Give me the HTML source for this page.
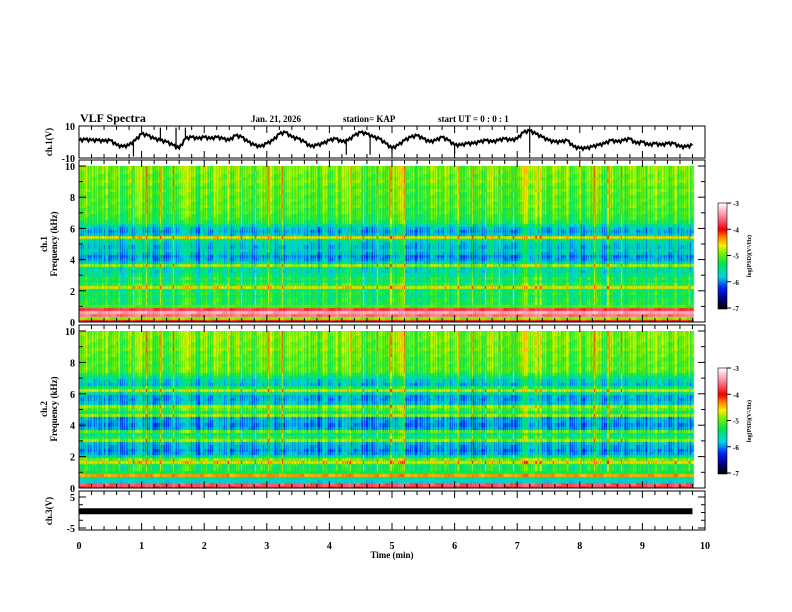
<!DOCTYPE html>
<html><head><meta charset="utf-8"><style>
body{margin:0;background:#fff;width:792px;height:612px;overflow:hidden}
#root{position:relative;width:792px;height:612px}
svg text{font-family:"Liberation Serif",serif;font-weight:bold;fill:#000}
canvas{position:absolute}
</style></head><body>
<div id="root">
<canvas id="spec1" width="626" height="156" style="left:79px;top:166px"></canvas>
<canvas id="spec2" width="626" height="157" style="left:79px;top:331px"></canvas>
<canvas id="cb1" width="9" height="106" style="left:718px;top:203px"></canvas>
<canvas id="cb2" width="9" height="106" style="left:718px;top:368px"></canvas>
<svg id="ov" width="792" height="612" style="position:absolute;left:0;top:0"></svg>
</div>
<script>
// ---- data ----
const timeTicks=[0,1,2,3,4,5,6,7,8,9,10];
const freqTicks=[0,2,4,6,8,10];
const cbTicks=[-3,-4,-5,-6,-7];
const wave1=[1,1.5,1,1,0.5,1,-2,-3,-2,1,5,4,2,1,0,-2,-4,2,3,2,3,2,3,2,1,4,3,0,-2,-3,-1,1,5,6,3,2,0,-3,-2,-1,1,2,0,1,4,6,5,3,2,-1,-4,-2,1,3,4,2,0,1,3,1,-2,-2,-1,-1,0,1,0,1,2,1,2,6,7,5,3,1,0,0,1,-3,-4,-4,-3,-2,-1,1,0,1,2,-1,0,-2,-1,-2,-1,-1,-3,-3,-2];
const waveSpikeTimes=[0.87,1.3,1.55,1.7,4.27,4.65,5.0,6.0,7.2];
const waveSpikeVals=[-9,9,9,9,-8,-8,-7,-7,-7];
const ch1Rows=[-3.9,-4.7,-3.4,-3.2,-3.6,-4.9,-5.3,-5.3,-5.4,-5.3,-5.4,-4.7,-5.2,-5.4,-5.3,-5.5,-5.6,-5.6,-4.9,-5.7,-5.9,-6.0,-5.8,-5.7,-5.8,-5.7,-5.6,-4.7,-5.8,-5.9,-5.8,-5.6,-5.3,-5.2,-5.2,-5.1,-5.15,-5.05,-5.1,-5.05,-5.1,-5.05,-5.0,-5.1,-5.0,-4.95,-5.0,-5.0,-4.95,-4.95];
const ch2Rows=[-3.6,-3.5,-5.6,-5.4,-4.2,-5.1,-5.3,-5.3,-4.6,-5.0,-5.6,-5.9,-6.0,-5.9,-5.8,-4.9,-5.3,-5.5,-5.1,-5.9,-6.0,-5.9,-5.9,-4.9,-5.4,-5.1,-4.9,-5.8,-5.9,-5.9,-5.6,-4.8,-5.4,-5.8,-5.7,-5.5,-5.3,-5.1,-5.05,-5.1,-5.05,-5.1,-5.0,-5.05,-4.95,-5.0,-5.0,-4.95,-4.95,-4.95];
const colActivity=[0.3,0.6,0.2,0.4,0.3,0.5,0.2,0.3,0.4,0.9,0.6,0.3,0.2,0.4,0.3,0.5,0.7,0.8,0.4,0.3,0.5,0.4,0.8,0.4,0.3,0.6,0.5,0.3,0.4,0.7,0.5,0.3,0.4,0.8,0.4,0.6,0.3,0.2,0.3,0.5,0.4,0.3,0.8,0.5,0.4,0.3,0.2,0.5,0.4,0.3,0.7,0.9,0.4,0.3,0.2,0.3,0.4,0.5,0.3,0.4,0.6,0.3,0.4,0.2,0.3,0.5,0.7,0.4,0.3,0.2,0.5,1.0,0.6,0.9,0.4,0.3,0.5,0.4,0.3,0.3,0.2,0.6,0.8,0.4,0.3,0.5,0.4,0.3,0.6,0.4,0.3,0.5,0.6,0.4,0.3,0.4,0.5,0.3];
const ch3Times=[0,9.8];
const ch3Vals=[0.4,0.4];
// ---- scales ----
const X0=79,X1=705;
const xs=t=>X0+t*(X1-X0)/10;
const P={w:[126,158,-10,10],s1:[166,322,0,10],s2:[331,488,0,10],c3:[497,528,-5,5]};
const ys=(p,v)=>{const [a,b,lo,hi]=P[p];return b-(v-lo)/(hi-lo)*(b-a);};
function cmap(v){
 const st=[[-7,[0,0,0]],[-6.6,[0,0,140]],[-6.2,[0,40,255]],[-5.8,[0,210,230]],[-5.3,[0,230,80]],[-4.9,[120,240,0]],[-4.6,[250,240,0]],[-4.3,[255,140,0]],[-4.0,[240,0,0]],[-3.5,[250,130,150]],[-3.0,[255,255,255]]];
 if(v<=-7)return st[0][1]; if(v>=-3)return st[st.length-1][1];
 for(let i=1;i<st.length;i++){if(v<=st[i][0]){const f=(v-st[i-1][0])/(st[i][0]-st[i-1][0]);return st[i-1][1].map((c,k)=>Math.round(c+(st[i][1][k]-c)*f));}}
}
function drawSpec(id,rows,p){
 const c=document.getElementById(id),g=c.getContext('2d');
 const top=P[p][0];
 const nc=colActivity.length, dt=0.1, NS_=6;
 for(let i=0;i<nc;i++){
  for(let sub=0;sub<NS_;sub++){
   const t0=i*dt+sub*dt/NS_,xa=xs(t0)-X0,xb=xs(t0+dt/NS_)-X0;
   const ct=((i*37+sub*11)%7-3)*0.09;
   const spike=((i*5+sub*3)%13==0)?0.5:0;
   for(let j=0;j<rows.length;j++){
    const f0=j*0.2,ya=ys(p,f0+0.2)-top,yb=ys(p,f0)-top;
    const tex=(((j*3+i)%4)-1.5)*0.05;
    const hf=f0>1?1:0.2;
    const act=(colActivity[i]*0.5+ct+spike)*hf;
    const v=rows[j]+act-0.2+tex;
    const col=cmap(v);g.fillStyle=`rgb(${col})`;
    g.fillRect(Math.floor(xa),Math.floor(ya),Math.ceil(xb-xa)+1,Math.ceil(yb-ya)+1);
   }
  }
 }
}
drawSpec('spec1',ch1Rows,'s1');drawSpec('spec2',ch2Rows,'s2');
['cb1','cb2'].forEach(id=>{const c=document.getElementById(id),g=c.getContext('2d');for(let y=0;y<c.height;y++){const v=-3-4*y/(c.height-1);const col=cmap(v);g.fillStyle=`rgb(${col})`;g.fillRect(0,y,c.width,1);}});
// ---- svg ----
const NS='http://www.w3.org/2000/svg',ov=document.getElementById('ov');
function el(tag,at,txt){const e=document.createElementNS(NS,tag);for(const k in at)e.setAttribute(k,at[k]);if(txt!=null)e.textContent=txt;ov.appendChild(e);return e;}
function line(x1,y1,x2,y2,w){return el('line',{x1,y1,x2,y2,stroke:'#000','stroke-width':w||1});}
function text(x,y,s,size,anchor,name,rot){const at={x,y,'font-size':size,'text-anchor':anchor||'start'};if(rot)at.transform=`rotate(-90 ${x} ${y})`;const e=el('text',at,s);return e;}
[['w',126,158],['s1',160,322],['s2',325,488],['c3',491,530]].forEach(([p,a,b])=>{
 const r=el('rect',{x:X0,y:a,width:X1-X0,height:b-a,fill:'none',stroke:'#000','stroke-width':1});
 
 for(let t=0;t<=10.001;t+=0.2){const maj=Math.abs(t-Math.round(t))<0.01;const L=maj?7:4;line(xs(t),a,xs(t),a+L);line(xs(t),b,xs(t),b-L);}
});
let d='';wave1.forEach((v,i)=>{
 d+=(i?'L':'M')+xs(i*0.1).toFixed(1)+','+ys('w',v).toFixed(1);
 if(i<wave1.length-1){for(let k=1;k<4;k++){const t=i*0.1+k*0.025;const vv=v+(wave1[i+1]-v)*k/4+((k%2)?0.9:-0.9);d+='L'+xs(t).toFixed(1)+','+ys('w',vv).toFixed(1);}}
});
const wl=el('path',{d,fill:'none',stroke:'#000','stroke-width':2});
waveSpikeTimes.forEach((t,i)=>{const k=Math.round(t*10);const s=line(xs(t),ys('w',wave1[Math.min(k,wave1.length-1)]),xs(t),ys('w',waveSpikeVals[i]),1.2);});
const c3=line(xs(ch3Times[0]),ys('c3',ch3Vals[0]),xs(ch3Times[1]),ys('c3',ch3Vals[1]),6);
function yAxis(p,ticks,minor){ticks.forEach(v=>{const y=ys(p,v);line(X0,y,X0+7,y);line(X1,y,X1-7,y);text(X0-4,y+4,String(v),10,'end','y-tick-'+p);});
 if(minor)minor.forEach(v=>{const y=ys(p,v);line(X0,y,X0+4,y);line(X1,y,X1-4,y);});}
yAxis('w',[10,-10]);yAxis('s1',freqTicks,[1,3,5,7,9]);yAxis('s2',freqTicks,[1,3,5,7,9]);yAxis('c3',[5,-5],[-2.5,0,2.5]);
timeTicks.forEach(t=>text(xs(t),549,String(t),10,'middle','x-tick-label'));
text(392,558,'Time (min)',9,'middle','x-axis-title');
text(52,142,'ch.1(V)',9,'middle','ch1-y-title',true);
text(47,244,'ch.1',9,'middle','ch1-spec-y-title',true);text(57,244,'Frequency (kHz)',9,'middle','ch1-freq-title',true);
text(47,409,'ch.2',9,'middle','ch2-spec-y-title',true);text(57,409,'Frequency (kHz)',9,'middle','ch2-freq-title',true);
text(52,511,'ch.3(V)',9,'middle','ch3-y-title',true);
text(80,122,'VLF Spectra',12,'start','title');
text(251,122,'Jan. 21, 2026',9,'start','date-label');
text(343,122,'station= KAP',9,'start','station-label');
text(438,122,'start UT =  0 : 0 : 1',9,'start','start-ut-label');
[203,368].forEach((top,k)=>{el('rect',{x:718,y:top,width:9,height:106,fill:'none',stroke:'#000','stroke-width':0.6});
 cbTicks.forEach(v=>{const y=top+(-3-v)/4*105;line(727,y,731,y);text(733,y+3,String(v),7,'start','colorbar-tick');});
 text(751,top+53,'log(PSD)(V²/Hz)',6,'middle','colorbar-title',true);});
</script>
</body></html>
